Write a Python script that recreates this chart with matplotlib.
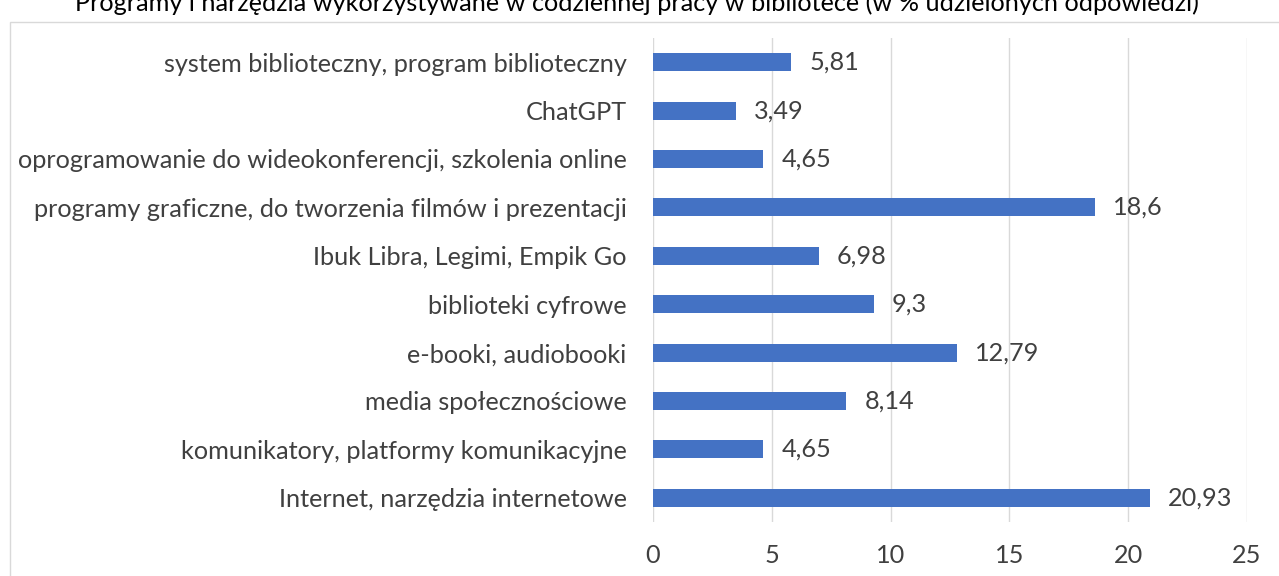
import matplotlib
matplotlib.use('Agg')
import matplotlib.pyplot as plt
from matplotlib.patches import Rectangle

categories = ['Internet, narzędzia internetowe',
              'komunikatory, platformy komunikacyjne',
              'media społecznościowe',
              'e-booki, audiobooki',
              'biblioteki cyfrowe',
              'Ibuk Libra, Legimi, Empik Go',
              'programy graficzne, do tworzenia filmów i prezentacji',
              'oprogramowanie do wideokonferencji, szkolenia online',
              'ChatGPT',
              'system biblioteczny, program biblioteczny']
values = [20.93, 4.65, 8.14, 12.79, 9.3, 6.98, 18.6, 4.65, 3.49, 5.81]
value_labels = ['20,93', '4,65', '8,14', '12,79', '9,3', '6,98', '18,6', '4,65', '3,49', '5,81']
ticks = [0, 5, 10, 15, 20, 25]

title = 'Programy i narzędzia wykorzystywane w codziennej pracy w bibliotece (w % udzielonych odpowiedzi)'

plt.rcParams['font.family'] = ['Lato', 'DejaVu Sans']
txt = '#404040'
fs = 18.2

fig = plt.figure(figsize=(12.79, 5.76), dpi=100)
fig.patches.append(Rectangle((10 / 1279, -0.1), 1.2, 1 - 22 / 576 + 0.1, transform=fig.transFigure,
                             fill=False, edgecolor='#d9d9d9', linewidth=1))
# title is cut off at the top edge in the source image
fig.text(637 / 1279, 1 - 3 / 576, title, ha='center', va='center', fontsize=fs, color='black')

ax = fig.add_axes([653 / 1279, 1 - 522 / 576, (1247 - 653) / 1279, (522 - 38) / 576])
y = list(range(len(categories)))
ax.barh(y, values, height=0.37, color='#4472C4', zorder=2)
for yi, v, lab in zip(y, values, value_labels):
    ax.annotate(lab, (v, yi), xytext=(13, 0), textcoords='offset points', va='center', ha='left',
                fontsize=fs, color=txt)

ax.set_xlim(0, 25)
ax.set_ylim(-0.5, len(categories) - 0.5)
ax.set_xticks(ticks)
ax.set_xticklabels([str(t) for t in ticks], fontsize=fs, color=txt)
ax.set_yticks(y)
ax.set_yticklabels(categories, fontsize=fs, color=txt)
ax.tick_params(length=0)
ax.tick_params(axis='x', pad=16)
ax.tick_params(axis='y', pad=19)
ax.grid(axis='x', color='#d9d9d9', linewidth=1, zorder=0)
for s in ax.spines.values():
    s.set_visible(False)

fig.savefig('out.png', dpi=100)
